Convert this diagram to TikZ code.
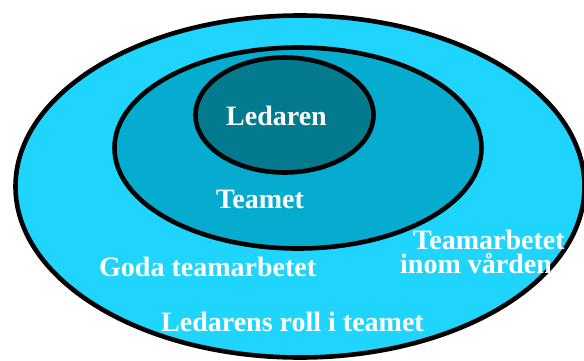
\documentclass[tikz,border=0pt]{standalone}
\usepackage{fontspec}
\setmainfont{Liberation Serif}
\begin{document}
\begin{tikzpicture}[x=1pt,y=-1pt,
  ring/.style={draw=black,line width=4.6pt},
  label/.style={text=white,font=\bfseries\fontsize{28}{24}\selectfont,inner sep=0pt,anchor=base west},
]
\definecolor{outerfill}{RGB}{32,213,253}
\definecolor{midfill}{RGB}{6,172,208}
\definecolor{innerfill}{RGB}{4,122,142}
\useasboundingbox (0,0) rectangle (584,361);
\fill[white] (0,0) rectangle (584,361);
\clip (0,0) rectangle (584,361);
% nested circles of context
\path[ring,fill=outerfill] (300,186.5) ellipse [x radius=284.5pt, y radius=171pt];
\path[ring,fill=midfill]   (298,148)   ellipse [x radius=183.5pt, y radius=100.5pt];
\path[ring,fill=innerfill] (284.5,115) ellipse [x radius=89pt,    y radius=57.5pt];
% labels
\node[label] (ledaren) at (226,125) {Ledaren};
\node[label] (teamet)  at (216,208) {Teamet};
\node[label] (goda)    at (99,276) {Goda teamarbetet};
\node[label,align=left,anchor=north west] (varden) at (400,230)
  {\hspace*{13pt}Teamarbetet\\inom vården};
\node[label] (roll)    at (161,331) {Ledarens roll i teamet};
\end{tikzpicture}
\end{document}
